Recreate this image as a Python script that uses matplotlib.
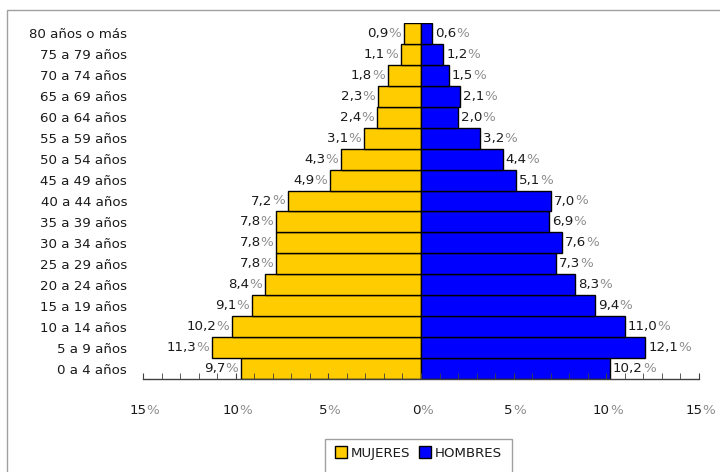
import matplotlib
matplotlib.use("Agg")
import matplotlib.pyplot as plt
from matplotlib.patches import Rectangle, Patch
from matplotlib.ticker import MultipleLocator
import matplotlib.transforms as mtrans

# grupos de edad, de abajo hacia arriba
edades = ['0 a 4 años', '5 a 9 años', '10 a 14 años', '15 a 19 años',
          '20 a 24 años', '25 a 29 años', '30 a 34 años', '35 a 39 años',
          '40 a 44 años', '45 a 49 años', '50 a 54 años', '55 a 59 años',
          '60 a 64 años', '65 a 69 años', '70 a 74 años', '75 a 79 años',
          '80 años o más']
mujeres = [9.7, 11.3, 10.2, 9.1, 8.4, 7.8, 7.8, 7.8, 7.2, 4.9, 4.3, 3.1,
           2.4, 2.3, 1.8, 1.1, 0.9]
hombres = [10.2, 12.1, 11.0, 9.4, 8.3, 7.3, 7.6, 6.9, 7.0, 5.1, 4.4, 3.2,
           2.0, 2.1, 1.5, 1.2, 0.6]
xticks = [-15, -10, -5, 0, 5, 10, 15]

AMARILLO = '#FFCC00'
AZUL = '#0000FF'
NEGRO = '#1a1a1a'
GRIS = '#8c8c8c'
FS = 9.6

plt.rcParams['font.family'] = 'DejaVu Sans'

fig = plt.figure(figsize=(7.2, 4.72), dpi=100)
ax = fig.add_axes([143 / 720, 1 - 379 / 472, 556 / 720, 356 / 472])

y = list(range(len(edades)))
ax.barh(y, [-m for m in mujeres], height=1.0, color=AMARILLO,
        edgecolor='black', linewidth=1)
ax.barh(y, hombres, height=1.0, color=AZUL, edgecolor='black', linewidth=1)

ax.set_xlim(-15, 15)
ax.set_ylim(-0.5, len(edades) - 0.5)
ax.set_yticks(y)
ax.set_yticklabels(edades, fontsize=FS, color=NEGRO)
ax.tick_params(axis='y', length=0, pad=11.5)

for s in ['top', 'left', 'right']:
    ax.spines[s].set_visible(False)
ax.spines['bottom'].set_color('#404040')
ax.spines['bottom'].set_linewidth(1)

ax.xaxis.set_major_locator(MultipleLocator(5))
ax.xaxis.set_minor_locator(MultipleLocator(1))
ax.tick_params(axis='x', which='both', direction='in', length=4,
               color='#404040', labelbottom=False)


def desplazar(trans, dx, dy):
    return trans + mtrans.ScaledTranslation(dx / 100, dy / 100,
                                            fig.dpi_scale_trans)


def etiqueta_izq(x, yy, numero):
    # % gris pegado a la barra, número a su izquierda
    pct = ax.text(x, yy, '%', ha='right', va='center', fontsize=FS,
                  color=GRIS, transform=desplazar(ax.transData, -3, 0))
    ax.annotate(numero, xy=(0, 0), xycoords=pct, ha='right', va='bottom',
                fontsize=FS, color=NEGRO)


def etiqueta_der(x, yy, numero, trans=None, dx=3, dy=0, ha='left'):
    trans = ax.transData if trans is None else trans
    num = ax.text(x, yy, numero, ha=ha, va='center', fontsize=FS,
                  color=NEGRO, transform=desplazar(trans, dx, dy))
    ax.annotate('%', xy=(1, 0), xycoords=num, ha='left', va='bottom',
                fontsize=FS, color=GRIS)


for i in y:
    etiqueta_izq(-mujeres[i], i, f'{mujeres[i]:.1f}'.replace('.', ','))
    etiqueta_der(hombres[i], i, f'{hombres[i]:.1f}'.replace('.', ','))

btrans = mtrans.blended_transform_factory(ax.transData, ax.transAxes)
for t in xticks:
    txt = f'{abs(t)}'
    # centrar aproximadamente el conjunto número + %
    etiqueta_der(t, 0, txt, trans=btrans, dx=-5, dy=-32, ha='center')

# marco exterior
fig.patches.append(Rectangle((7 / 720, -0.05), 1.0, 1 - 10 / 472 + 0.05,
                             transform=fig.transFigure, fill=False,
                             edgecolor='#a0a0a0', linewidth=1))

# leyenda
fig.patches.append(Rectangle((325 / 720, -0.05), 187 / 720,
                             1 - 439 / 472 + 0.05,
                             transform=fig.transFigure, fill=False,
                             edgecolor='#a0a0a0', linewidth=1))
handles = [Patch(facecolor=AMARILLO, edgecolor='black', label='MUJERES'),
           Patch(facecolor=AZUL, edgecolor='black', label='HOMBRES')]
fig.legend(handles=handles, loc='center',
           bbox_to_anchor=(418.5 / 720, 1 - 453 / 472),
           ncol=2, frameon=False, fontsize=FS, handlelength=0.9,
           handleheight=0.9, handletextpad=0.3, columnspacing=0.6,
           labelcolor=NEGRO)

fig.savefig('out.png', dpi=100)
